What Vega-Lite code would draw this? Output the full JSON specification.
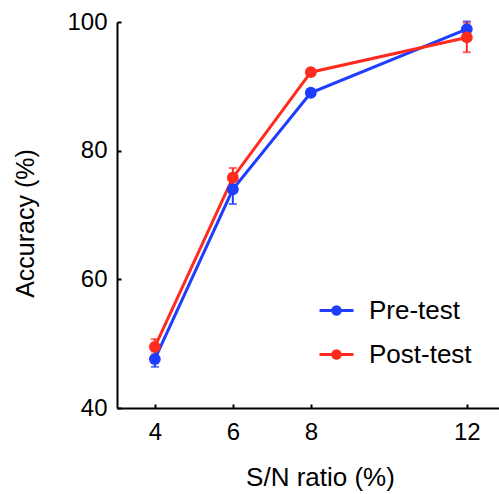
{
  "$schema": "https://vega.github.io/schema/vega-lite/v6.json",
  "width": 382,
  "height": 386,
  "autosize": {"type": "none"},
  "padding": {"left": 117, "top": 22, "right": 0, "bottom": 86},
  "background": "white",
  "config": {
    "view": {"stroke": null},
    "font": "Liberation Sans",
    "axis": {
      "grid": false,
      "domainColor": "black",
      "domainWidth": 2,
      "tickColor": "black",
      "tickWidth": 2,
      "tickSize": -4,
      "labelFontSize": 24,
      "labelColor": "black",
      "titleFontSize": 25,
      "titleFontWeight": "normal",
      "titleColor": "black"
    }
  },
  "data": {
    "values": [
      {"x": 4, "group": "Pre-test", "acc": 47.6, "lo": 46.4, "hi": 48.8},
      {"x": 6, "group": "Pre-test", "acc": 74.0, "lo": 71.7, "hi": 76.3},
      {"x": 8, "group": "Pre-test", "acc": 89.0, "lo": 88.5, "hi": 89.5},
      {"x": 12, "group": "Pre-test", "acc": 98.9, "lo": 97.7, "hi": 100.1},
      {"x": 4, "group": "Post-test", "acc": 49.5, "lo": 48.3, "hi": 50.7},
      {"x": 6, "group": "Post-test", "acc": 75.8, "lo": 74.3, "hi": 77.3},
      {"x": 8, "group": "Post-test", "acc": 92.2, "lo": 91.7, "hi": 92.7},
      {"x": 12, "group": "Post-test", "acc": 97.6, "lo": 95.3, "hi": 99.9}
    ]
  },
  "encoding": {
    "x": {
      "field": "x", "type": "quantitative",
      "scale": {"domain": [3.03, 12.825], "nice": false, "zero": false},
      "axis": {"values": [4, 6, 8, 12], "title": "S/N ratio (%)", "labelPadding": 16, "titlePadding": 20, "titleFontSize": 26, "titleX": 203}
    },
    "color": {
      "field": "group", "type": "nominal",
      "scale": {"domain": ["Pre-test", "Post-test"], "range": ["#1f3dff", "#ff2b1f"]},
      "legend": {
        "orient": "none",
        "legendX": 201,
        "legendY": 270,
        "title": null,
        "padding": 0,
        "symbolType": "M-1,0H1M0.22,0A0.22,0.22,0,1,1,-0.22,0A0.22,0.22,0,1,1,0.22,0",
        "symbolSize": 1156,
        "symbolStrokeWidth": 3,
        "labelFontSize": 26,
        "labelColor": "black",
        "labelOffset": 14,
        "rowPadding": 12,
        "encode": {
          "symbols": {"update": {
            "fill": {"scale": "color", "field": "value"},
            "stroke": {"scale": "color", "field": "value"},
            "opacity": {"value": 1}
          }}
        }
      }
    }
  },
  "layer": [
    {
      "mark": {"type": "errorbar", "ticks": {"size": 8, "thickness": 2}, "thickness": 2},
      "encoding": {
        "y": {"field": "lo", "type": "quantitative",
          "scale": {"domain": [40, 100], "nice": false, "zero": false},
          "axis": {"values": [40, 60, 80, 100], "title": "Accuracy (%)", "labelPadding": 14, "titlePadding": 28, "titleY": 201}},
        "y2": {"field": "hi"}
      }
    },
    {
      "mark": {"type": "line", "strokeWidth": 3},
      "encoding": {"y": {"field": "acc", "type": "quantitative"}}
    },
    {
      "mark": {"type": "point", "filled": true, "size": 140, "opacity": 1},
      "encoding": {"y": {"field": "acc", "type": "quantitative"}}
    }
  ]
}
